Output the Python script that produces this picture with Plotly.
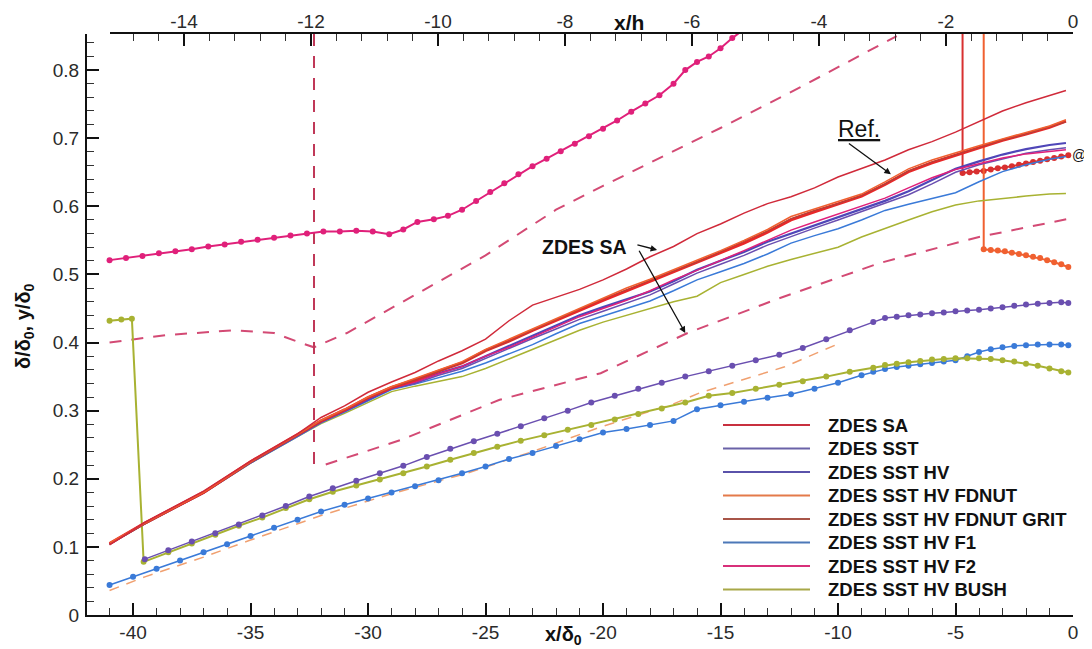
import plotly.graph_objects as go

# ---------------- data ----------------
X_BL = [-41, -39.5, -37, -35, -33, -32, -31, -30, -29, -28, -27, -26, -25, -24, -23, -22, -21,
        -20, -19, -18, -17, -16, -15, -14, -13, -12, -11, -10, -9, -8, -7, -6, -5, -4, -3, -2, -1, -0.3]

SA = [0.103, 0.136, 0.182, 0.226, 0.266, 0.290, 0.307, 0.327, 0.342,
      0.356, 0.373, 0.388, 0.405, 0.432, 0.455, 0.467, 0.478, 0.492, 0.508, 0.526, 0.541, 0.560,
      0.574, 0.590, 0.604, 0.614, 0.627, 0.643, 0.656, 0.668, 0.683, 0.695, 0.709, 0.724, 0.740,
      0.752, 0.763, 0.770]
FDNUT = [0.106, 0.135, 0.180, 0.225, 0.265, 0.286, 0.302, 0.320, 0.335,
         0.347, 0.360, 0.372, 0.390, 0.405, 0.420, 0.436, 0.451, 0.466, 0.480, 0.493, 0.507, 0.520,
         0.535, 0.550, 0.566, 0.585, 0.596, 0.606, 0.618, 0.636, 0.655, 0.668, 0.679, 0.689, 0.699,
         0.708, 0.718, 0.727]
GRIT = [0.104, 0.134, 0.181, 0.224, 0.264, 0.285, 0.301, 0.319, 0.334,
        0.345, 0.358, 0.370, 0.388, 0.402, 0.418, 0.434, 0.449, 0.464, 0.478, 0.491, 0.505, 0.518,
        0.533, 0.548, 0.564, 0.582, 0.594, 0.604, 0.616, 0.633, 0.652, 0.665, 0.676, 0.687, 0.697,
        0.706, 0.716, 0.724]
REF = [0.105, 0.135, 0.180, 0.225, 0.265, 0.285, 0.301, 0.319, 0.334,
       0.345, 0.358, 0.370, 0.388, 0.402, 0.418, 0.433, 0.448, 0.462, 0.476, 0.490, 0.504, 0.517,
       0.532, 0.546, 0.562, 0.580, 0.592, 0.603, 0.615, 0.632, 0.651, 0.664, 0.675, 0.686, 0.697,
       0.706, 0.716, 0.725]
SST = [0.104, 0.135, 0.180, 0.224, 0.264, 0.284, 0.300, 0.317, 0.333,
       0.342, 0.355, 0.365, 0.380, 0.395, 0.410, 0.425, 0.440, 0.452, 0.463, 0.475, 0.490, 0.507,
       0.520, 0.533, 0.548, 0.560, 0.572, 0.584, 0.596, 0.608, 0.622, 0.638, 0.655, 0.666, 0.676,
       0.684, 0.690, 0.693]
SST_HV = [0.105, 0.134, 0.179, 0.224, 0.263, 0.283, 0.299, 0.316, 0.332,
          0.340, 0.352, 0.362, 0.377, 0.392, 0.406, 0.420, 0.434, 0.446, 0.458, 0.470, 0.486, 0.502,
          0.515, 0.528, 0.543, 0.556, 0.568, 0.580, 0.592, 0.604, 0.617, 0.633, 0.650, 0.661, 0.670,
          0.678, 0.683, 0.686]
F1 = [0.104, 0.134, 0.179, 0.223, 0.262, 0.282, 0.298, 0.315, 0.331,
      0.339, 0.349, 0.358, 0.370, 0.383, 0.397, 0.413, 0.428, 0.439, 0.450, 0.461, 0.476, 0.492,
      0.504, 0.516, 0.530, 0.546, 0.557, 0.567, 0.580, 0.594, 0.603, 0.611, 0.620, 0.636, 0.651,
      0.661, 0.669, 0.673]
F2 = [0.105, 0.135, 0.180, 0.225, 0.264, 0.284, 0.300, 0.318, 0.333,
      0.342, 0.354, 0.365, 0.380, 0.393, 0.408, 0.423, 0.438, 0.450, 0.462, 0.476, 0.492, 0.506,
      0.520, 0.535, 0.550, 0.565, 0.577, 0.589, 0.600, 0.612, 0.627, 0.642, 0.654, 0.663, 0.671,
      0.677, 0.681, 0.683]
BUSH = [0.104, 0.134, 0.179, 0.223, 0.262, 0.281, 0.296, 0.312, 0.328,
        0.336, 0.343, 0.350, 0.362, 0.376, 0.390, 0.404, 0.418, 0.430, 0.440, 0.450, 0.460, 0.468,
        0.488, 0.500, 0.512, 0.522, 0.531, 0.540, 0.555, 0.568, 0.580, 0.592, 0.602, 0.608, 0.612,
        0.615, 0.618, 0.619]

# y-position curves (with symbols)
X_F2_Y = [-41, -40.3, -39.6, -38.9, -38.2, -37.5, -36.8, -36.1, -35.4, -34.7, -34, -33.3, -32.6,
          -31.9, -31.2, -30.5, -29.8, -29.1, -28.5, -27.9, -27.2, -26.6, -26, -25.4, -24.8, -24.2,
          -23.6, -23, -22.4, -21.8, -21.2, -20.6, -20, -19.4, -18.8, -18.2, -17.6, -17, -16.5, -16,
          -15.5, -15, -14.5, -14]
F2_Y = [0.521, 0.524, 0.527, 0.531, 0.534, 0.537, 0.541, 0.544, 0.548, 0.551, 0.554, 0.557, 0.560,
        0.563, 0.563, 0.564, 0.563, 0.559, 0.566, 0.577, 0.581, 0.586, 0.595, 0.608, 0.621, 0.634,
        0.647, 0.659, 0.670, 0.681, 0.692, 0.703, 0.714, 0.726, 0.739, 0.751, 0.763, 0.780, 0.800,
        0.812, 0.820, 0.832, 0.847, 0.860]

X_HV_Y = [-39.5, -38.5, -37.5, -36.5, -35.5, -34.5, -33.5, -32.5, -31.5, -30.5, -29.5, -28.5, -27.5,
          -26.5, -25.5, -24.5, -23.5, -22.5, -21.5, -20.5, -19.5, -18.5, -17.5, -16.5, -15.5, -14.5,
          -13.5, -12.5, -11.5, -10.5, -9.5, -8.5, -8, -7.5, -7, -6.5, -6, -5.5, -5, -4.5, -4, -3.5,
          -3, -2.5, -2, -1.5, -1, -0.5, -0.2]
HV_Y = [0.082, 0.095, 0.108, 0.120, 0.133, 0.146, 0.160, 0.174, 0.186, 0.197, 0.208, 0.219, 0.232,
        0.244, 0.255, 0.266, 0.277, 0.289, 0.300, 0.312, 0.322, 0.332, 0.341, 0.350, 0.358, 0.366,
        0.374, 0.382, 0.392, 0.405, 0.418, 0.430, 0.436, 0.438, 0.440, 0.441, 0.443, 0.444, 0.446,
        0.447, 0.448, 0.450, 0.452, 0.454, 0.456, 0.457, 0.458, 0.459, 0.458]

X_BUSH_Y = [-41, -40.5, -40.05, -39.55, -38.5, -37.5, -36.5, -35.5, -34.5, -33.5, -32.5, -31.5,
            -30.5, -29.5, -28.5, -27.5, -26.5, -25.5, -24.5, -23.5, -22.5, -21.5, -20.5, -19.5,
            -18.5, -17.5, -16.5, -15.5, -14.5, -13.5, -12.5, -11.5, -10.5, -9.5, -8.5, -8, -7.5, -7,
            -6.5, -6, -5.5, -5, -4.5, -4, -3.5, -3, -2.5, -2, -1.5, -1, -0.5, -0.2]
BUSH_Y = [0.432, 0.434, 0.435, 0.078, 0.092, 0.105, 0.118, 0.131, 0.143, 0.157, 0.170, 0.181,
          0.190, 0.199, 0.208, 0.218, 0.228, 0.238, 0.247, 0.256, 0.264, 0.272, 0.279, 0.287,
          0.295, 0.303, 0.312, 0.322, 0.326, 0.332, 0.338, 0.343, 0.350, 0.357, 0.363, 0.367, 0.369,
          0.371, 0.373, 0.375, 0.376, 0.377, 0.377, 0.377, 0.376, 0.374, 0.372, 0.369, 0.366, 0.362,
          0.358, 0.356]

X_F1_Y = [-41, -40, -39, -38, -37, -36, -35, -34, -33, -32, -31, -30, -29, -28, -27, -26, -25, -24,
          -23, -22, -21, -20, -19, -18, -17, -16, -15, -14, -13, -12, -11, -10, -9, -8.5, -8, -7.5,
          -7, -6.5, -6, -5.5, -5, -4.5, -4, -3.5, -3, -2.5, -2, -1.5, -1, -0.5, -0.2]
F1_Y = [0.044, 0.056, 0.068, 0.080, 0.092, 0.104, 0.116, 0.128, 0.140, 0.152, 0.162, 0.171, 0.180,
        0.189, 0.198, 0.208, 0.218, 0.229, 0.238, 0.248, 0.258, 0.268, 0.273, 0.279, 0.285, 0.302,
        0.308, 0.313, 0.319, 0.324, 0.332, 0.341, 0.352, 0.357, 0.361, 0.364, 0.366, 0.368, 0.370,
        0.372, 0.374, 0.380, 0.386, 0.390, 0.393, 0.395, 0.396, 0.397, 0.397, 0.397, 0.396]

X_SA_BUBBLE = [-4.7, -4.7, -4.4, -4.1, -3.8, -3.5, -3.2, -2.9, -2.6, -2.3, -2.0, -1.7, -1.4, -1.1,
               -0.8, -0.5, -0.2]
SA_BUBBLE = [0.95, 0.649, 0.650, 0.651, 0.652, 0.654, 0.656, 0.657, 0.659, 0.661, 0.663, 0.665,
             0.667, 0.669, 0.671, 0.673, 0.675]
X_FD_BUBBLE = [-3.8, -3.8, -3.5, -3.2, -2.9, -2.6, -2.3, -2.0, -1.7, -1.4, -1.1, -0.8, -0.5, -0.2]
FD_BUBBLE = [0.95, 0.537, 0.536, 0.535, 0.534, 0.532, 0.530, 0.528, 0.526, 0.524, 0.521, 0.518,
             0.515, 0.511]

# dashed reference lines
X_DASH_UP = [-41, -38.6, -35.7, -34, -32.9, -32.3, -30.9, -28, -25, -22, -20, -15, -11.6, -7.5]
DASH_UP = [0.400, 0.411, 0.418, 0.414, 0.400, 0.393, 0.414, 0.470, 0.528, 0.595, 0.630, 0.715,
           0.775, 0.850]
X_DASH_V = [-32.3, -32.3]
DASH_V = [0.95, 0.217]
X_DASH_LOW = [-31.8, -28.6, -24.4, -20.1, -16.4, -12.5, -8.2, -4, 0]
DASH_LOW = [0.221, 0.257, 0.316, 0.355, 0.414, 0.465, 0.517, 0.555, 0.583]
X_DASH_OR = [-41, -39.5, -37, -35, -32, -29, -25.8, -23, -20.1, -17, -15.9, -12.3, -10]
DASH_OR = [0.036, 0.056, 0.085, 0.110, 0.146, 0.178, 0.208, 0.240, 0.276, 0.310, 0.326, 0.364,
           0.398]

X_TICKS = [-40, -35, -30, -25, -20, -15, -10, -5, 0]
X_TICK_LABELS = ["-40", "-35", "-30", "-25", "-20", "-15", "-10", "-5", "0"]
H_TICKS = [-14, -12, -10, -8, -6, -4, -2, 0]
H_TICK_LABELS = ["-14", "-12", "-10", "-8", "-6", "-4", "-2", "0"]

LEGEND_NAMES = ["ZDES SA", "ZDES SST", "ZDES SST HV", "ZDES SST HV FDNUT",
                "ZDES SST HV FDNUT GRIT", "ZDES SST HV F1", "ZDES SST HV F2", "ZDES SST HV BUSH"]
LEGEND_COLORS = ["#C8303F", "#6A62A8", "#5A52AA", "#E47A4A", "#A85548", "#4C78B8", "#D8307A",
                 "#A8A848"]

C_SA = "#D02A3A"
C_SST = "#4F46B8"
C_HV = "#6A4FB0"
C_FD = "#F06030"
C_GRIT = "#B84038"
C_F1 = "#3A7AD8"
C_F2 = "#E0207A"
C_BUSH = "#A8B232"
C_REF = "#E82828"
C_DASH = "#D34A74"

fig = go.Figure()

def line(x, y, color, width=1.5, dash=None, markers=False, msize=6):
    fig.add_trace(go.Scatter(
        x=x, y=y, mode="lines+markers" if markers else "lines",
        line=dict(color=color, width=width, dash=dash),
        marker=dict(size=msize, color=color),
        showlegend=False, hoverinfo="skip"))

# dashed lines
line(X_DASH_UP, DASH_UP, C_DASH, 2, "12px,10px")
line(X_DASH_V, DASH_V, "#C03858", 2, "12px,10px")
line(X_DASH_LOW, DASH_LOW, C_DASH, 2, "12px,10px")
line(X_DASH_OR, DASH_OR, "#F0A070", 1.5, "10px,8px")

# symbol curves
line(X_F2_Y, F2_Y, C_F2, 2, markers=True, msize=6)
line(X_F1_Y, F1_Y, C_F1, 1.5, markers=True, msize=6)
line(X_BUSH_Y, BUSH_Y, C_BUSH, 2, markers=True, msize=6)
line(X_HV_Y, HV_Y, C_HV, 1.5, markers=True, msize=6)
line(X_SA_BUBBLE, SA_BUBBLE, "#D83030", 2, markers=True, msize=6)
line(X_FD_BUBBLE, FD_BUBBLE, C_FD, 2, markers=True, msize=6)

# boundary-layer thickness curves
line(X_BL, BUSH, C_BUSH, 1.5)
line(X_BL, F1, C_F1, 1.5)
line(X_BL, SST_HV, C_HV, 1.5)
line(X_BL, SST, C_SST, 2.2)
line(X_BL, F2, C_F2, 1.5)
line(X_BL, REF, C_REF, 3)
line(X_BL, GRIT, C_GRIT, 1.2)
line(X_BL, FDNUT, C_FD, 1.5)
line(X_BL, SA, C_SA, 1.5)

# dummy trace to show the top x/h axis
fig.add_trace(go.Scatter(x=[-1], y=[0.1], xaxis="x2", mode="markers",
                         marker=dict(opacity=0), showlegend=False, hoverinfo="skip"))

# page has an 8px body margin: positions below are absolute screen pixels
OFF = 8
L, R, T, B = 87, 1073, 34, 615
W, H = 1092 - OFF, 649 - OFF

def px(p):
    return (p - L) / (R - L)

def py(p):
    return (B - p) / (B - T)

FONT = "Liberation Sans, Arial, sans-serif"
tickfont = dict(family=FONT, size=19, color="#2a2a2a")

# manual legend (long line samples)
rows = [425, 448.5, 472, 495.5, 519, 542.5, 566, 589.5]
shapes = []
annotations = []
for name, col, r in zip(LEGEND_NAMES, LEGEND_COLORS, rows):
    shapes.append(dict(type="line", xref="paper", yref="paper", x0=px(723), x1=px(810),
                       y0=py(r), y1=py(r), line=dict(color=col, width=2)))
    annotations.append(dict(xref="paper", yref="paper", x=px(826), y=py(r), text="<b>%s</b>" % name,
                            showarrow=False, xanchor="left", yanchor="middle",
                            font=dict(family=FONT, size=18.5, color="#111")))

# axis titles
annotations.append(dict(xref="paper", yref="paper", x=px(563), y=py(635), yanchor="middle",
                        text="<b>x/δ<sub>0</sub></b>", showarrow=False,
                        font=dict(family=FONT, size=20, color="#111")))
annotations.append(dict(xref="paper", yref="paper", x=px(629), y=py(22), yanchor="middle",
                        text="<b>x/h</b>", showarrow=False,
                        font=dict(family=FONT, size=21, color="#111")))
annotations.append(dict(xref="paper", yref="paper", x=px(24), y=py(326), textangle=-90,
                        xanchor="center", yanchor="middle",
                        text="<b>δ/δ<sub>0</sub>, y/δ<sub>0</sub></b>", showarrow=False,
                        font=dict(family=FONT, size=20, color="#111")))

# in-plot labels
annotations.append(dict(x=-20.8, y=0.541, text="<b>ZDES SA</b>", showarrow=False,
                        font=dict(family=FONT, size=19.5, color="#111")))
annotations.append(dict(x=-17.7, y=0.536, ax=-18.6, ay=0.544, axref="x", ayref="y", text="",
                        showarrow=True, arrowhead=2, arrowsize=1, arrowwidth=1.3, arrowcolor="#111"))
annotations.append(dict(x=-16.5, y=0.414, ax=-18.5, ay=0.537, axref="x", ayref="y", text="",
                        showarrow=True, arrowhead=2, arrowsize=1, arrowwidth=1.3, arrowcolor="#111"))
annotations.append(dict(x=-9.1, y=0.713, text="<u>Ref.</u>", showarrow=False,
                        font=dict(family=FONT, size=23, color="#111")))
annotations.append(dict(x=-7.75, y=0.647, ax=-9.6, ay=0.694, axref="x", ayref="y", text="",
                        showarrow=True, arrowhead=2, arrowsize=1, arrowwidth=1.3, arrowcolor="#111"))
annotations.append(dict(x=0.02, y=0.728, ax=0.02, ay=0.619, axref="x", ayref="y", text="",
                        showarrow=True, arrowhead=2, startarrowhead=2, arrowside="end+start",
                        arrowsize=1, arrowwidth=1.5, arrowcolor="#111"))
annotations.append(dict(xref="paper", yref="paper", x=px(1079), y=py(155), text="@",
                        xanchor="center", yanchor="middle",
                        showarrow=False, font=dict(family=FONT, size=14, color="#111")))

fig.update_layout(
    width=W, height=H, autosize=False,
    margin=dict(l=L - OFF, r=1092 - R, t=T - OFF, b=649 - B, autoexpand=False),
    paper_bgcolor="white", plot_bgcolor="rgba(0,0,0,0)",
    showlegend=False,
    shapes=shapes, annotations=annotations,
    xaxis=dict(range=[-41.96, 0], domain=[0, 1], showgrid=False, zeroline=False, automargin=False,
               showline=True, linecolor="#111", linewidth=2, mirror=False,
               tickmode="array", tickvals=X_TICKS, ticktext=X_TICK_LABELS,
               ticks="inside", ticklen=12, tickwidth=2, tickcolor="#111",
               tickfont=tickfont, ticklabelstandoff=-1,
               minor=dict(dtick=1, tick0=0, ticks="inside", ticklen=7, tickwidth=1,
                          tickcolor="#333", showgrid=False)),
    xaxis2=dict(range=[(110 - 1073) / 63.5, 0], domain=[px(110), 1], anchor="y", side="top",
                automargin=False,
                showgrid=False, zeroline=False, showline=True, linecolor="#111", linewidth=2,
                tickmode="array", tickvals=H_TICKS, ticktext=H_TICK_LABELS,
                ticks="inside", ticklen=12, tickwidth=2, tickcolor="#111",
                tickfont=tickfont, ticklabelstandoff=-4,
                minor=dict(dtick=0.4, tick0=0, ticks="inside", ticklen=7, tickwidth=1,
                           tickcolor="#333", showgrid=False)),
    yaxis=dict(range=[0, 0.853], showgrid=False, zeroline=False, automargin=False,
               showline=True, linecolor="#111", linewidth=2,
               dtick=0.1, tick0=0, ticks="inside", ticklen=12, tickwidth=2, tickcolor="#111",
               tickfont=tickfont, ticklabelstandoff=2,
               minor=dict(dtick=0.02, tick0=0, ticks="inside", ticklen=7, tickwidth=1,
                          tickcolor="#333", showgrid=False)),
)

fig.write_html("out.html")
